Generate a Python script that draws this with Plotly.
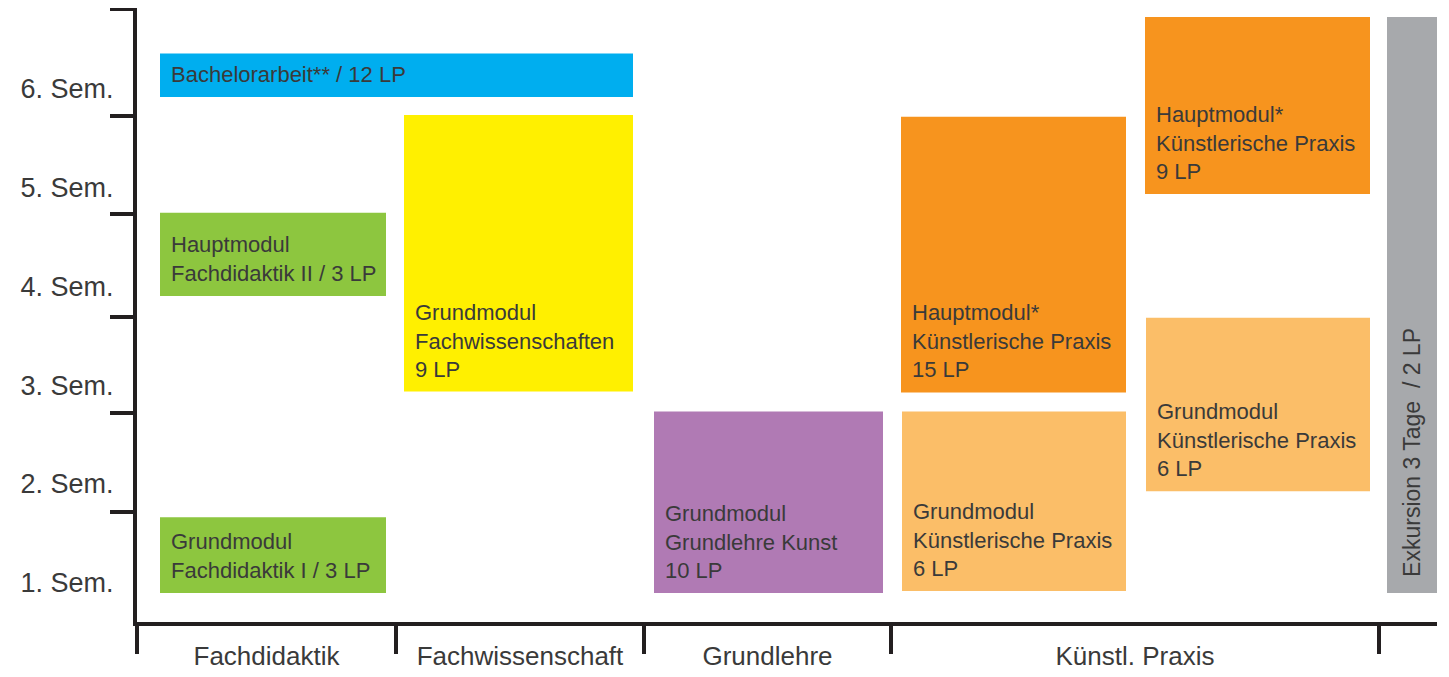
import plotly.graph_objects as go

# y axis: semesters (labels at 1..6, boundary ticks between them)
semesters = ["1. Sem.", "2. Sem.", "3. Sem.", "4. Sem.", "5. Sem.", "6. Sem."]
semester_pos = [1, 2, 3, 4, 5, 6]
semester_bounds = [1.72, 2.72, 3.69, 4.73, 5.72, 6.80]

# x axis: subject areas (in column units)
areas = ["Fachdidaktik", "Fachwissenschaft", "Grundlehre", "Künstl. Praxis"]
area_bounds = [0, 1.036, 2.028, 3.016, 4.968]

# modules
module_text = [
    "Bachelorarbeit** / 12 LP",
    "Hauptmodul<br>Fachdidaktik II / 3 LP",
    "Grundmodul<br>Fachdidaktik I / 3 LP",
    "Grundmodul<br>Fachwissenschaften<br>9 LP",
    "Grundmodul<br>Grundlehre Kunst<br>10 LP",
    "Grundmodul<br>Künstlerische Praxis<br>6 LP",
    "Hauptmodul*<br>Künstlerische Praxis<br>15 LP",
    "Hauptmodul*<br>Künstlerische Praxis<br>9 LP",
    "Grundmodul<br>Künstlerische Praxis<br>6 LP",
    "Exkursion 3 Tage  / 2 LP",
]
module_kind = ["bachelor", "didaktik", "didaktik", "wissenschaft", "grundlehre",
               "grund_praxis", "haupt_praxis", "haupt_praxis", "grund_praxis", "exkursion"]
col_start = [0.092, 0.092, 0.092, 1.068, 2.068, 3.060, 3.056, 4.032, 4.036, 5.000]
col_end = [1.984, 0.996, 0.996, 1.984, 2.984, 3.956, 3.956, 4.932, 4.932, 5.204]
sem_start = [5.91, 3.90, 0.90, 2.935, 0.90, 0.92, 2.925, 4.93, 1.927, 0.90]
sem_end = [6.35, 4.74, 1.665, 5.73, 2.734, 2.734, 5.71, 6.72, 3.68, 6.72]

kind_colors = {
    "bachelor": "#00AEEF",
    "didaktik": "#8DC63F",
    "wissenschaft": "#FFF000",
    "grundlehre": "#B07AB4",
    "grund_praxis": "#FBBE68",
    "haupt_praxis": "#F7941E",
    "exkursion": "#A7A9AC",
}

FONT = "Helvetica Neue, Helvetica, Liberation Sans, Arial, sans-serif"
INK = "#231F20"
TXT = "#3a3a3a"

centers = [(a + b) / 2 for a, b in zip(col_start, col_end)]
widths = [b - a for a, b in zip(col_start, col_end)]
heights = [b - a for a, b in zip(sem_start, sem_end)]

fig = go.Figure(
    go.Bar(
        x=centers,
        y=heights,
        base=sem_start,
        width=widths,
        marker=dict(color=[kind_colors[k] for k in module_kind], line=dict(width=0)),
        hoverinfo="skip",
    )
)

for i, txt in enumerate(module_text):
    if module_kind[i] == "exkursion":
        fig.add_annotation(
            x=centers[i], y=sem_start[i], text=txt, textangle=-90,
            xanchor="center", yanchor="bottom", yshift=14, showarrow=False,
            font=dict(family=FONT, size=23, color=TXT),
        )
    else:
        fig.add_annotation(
            x=col_start[i], y=sem_start[i], text=txt, align="left",
            xanchor="left", yanchor="bottom", xshift=9, yshift=8, showarrow=False,
            font=dict(family=FONT, size=22, color=TXT),
        )

area_mid = [(a + b) / 2 for a, b in zip(area_bounds[:-1], area_bounds[1:])]

# the page body adds an 8px margin, so the figure is a bit smaller than the window
fig.update_layout(
    width=1441,
    height=669,
    margin=dict(l=129, r=12, t=0, b=55),
    paper_bgcolor="white",
    plot_bgcolor="white",
    showlegend=False,
    barmode="overlay",
    xaxis=dict(
        range=[0, 5.2],
        tickvals=area_mid,
        ticktext=areas,
        ticks="outside",
        ticklen=8,
        tickcolor="rgba(0,0,0,0)",
        showline=True,
        linewidth=4,
        linecolor=INK,
        showgrid=False,
        zeroline=False,
        automargin=False,
        tickfont=dict(family=FONT, size=26, color=TXT),
        minor=dict(tickvals=area_bounds, ticks="outside", ticklen=28,
                   tickwidth=4, tickcolor=INK, showgrid=False),
    ),
    yaxis=dict(
        range=[0.606, 6.81],
        tickvals=semester_pos,
        ticktext=semesters,
        ticks="outside",
        ticklen=14,
        tickcolor="rgba(0,0,0,0)",
        showline=True,
        linewidth=4,
        linecolor=INK,
        showgrid=False,
        zeroline=False,
        automargin=False,
        tickfont=dict(family=FONT, size=27, color=TXT),
        minor=dict(tickvals=semester_bounds, ticks="outside", ticklen=23,
                   tickwidth=4, tickcolor=INK, showgrid=False),
    ),
)

fig.write_html("out.html")
